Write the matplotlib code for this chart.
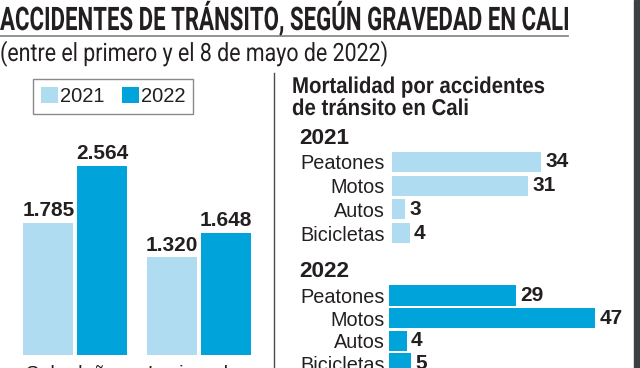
import matplotlib
matplotlib.use('Agg')
import numpy as np
import matplotlib.pyplot as plt
from matplotlib import patheffects
from matplotlib.patches import Patch, Rectangle
from matplotlib.lines import Line2D
from matplotlib.transforms import Affine2D

# datos
categorias = ['Solo daños', 'Lesionados']
valores_2021 = [1785, 1320]
valores_2022 = [2564, 1648]

tipos = ['Peatones', 'Motos', 'Autos', 'Bicicletas']
muertes_2021 = [34, 31, 3, 4]
muertes_2022 = [29, 47, 4, 5]

titulo = 'ACCIDENTES DE TRÁNSITO, SEGÚN GRAVEDAD EN CALI'
subtitulo = '(entre el primero y el 8 de mayo de 2022)'
titulo_der = ['Mortalidad por accidentes', 'de tránsito en Cali']

CLARO = '#afdcf0'
OSCURO = '#00a3da'
TEXTO = '#231f20'
SANS = 'Liberation Sans'

W, H = 640, 368


def fx(x):
    return x / W


def fy(y):
    return 1 - y / H


def miles(v):
    return f'{v:,}'.replace(',', '.')


# estira el texto en vertical (la fuente original es condensada)
class Estirar(patheffects.AbstractPathEffect):
    def __init__(self, sy):
        super().__init__()
        self.sy = sy

    def draw_path(self, renderer, gc, tpath, affine, rgbFace=None):
        renderer.draw_path(gc, tpath, Affine2D().scale(1, self.sy) + affine, rgbFace)


fig = plt.figure(figsize=(6.4, 3.68), dpi=100)

fig.text(0, fy(30), titulo, family='Roboto', weight='bold', fontsize=16,
         color=TEXTO, va='baseline', path_effects=[Estirar(1.46)])
fig.add_artist(Line2D([0, fx(568)], [fy(36), fy(36)], color='#8a8a8a', lw=1.3))
fig.text(0, fy(61), subtitulo, family='Roboto', fontsize=15.4,
         color=TEXTO, va='baseline', path_effects=[Estirar(1.18)])

# barras verticales
ax = fig.add_axes([0, fy(355), fx(272), 221.7 / H])
x = np.arange(len(categorias))
b1 = ax.bar(x - 0.2186, valores_2021, 0.405, color=CLARO)
b2 = ax.bar(x + 0.2186, valores_2022, 0.405, color=OSCURO)
ax.set_xlim(-0.611, 1.591)
ax.set_ylim(0, 3000)
for b, vals in [(b1, valores_2021), (b2, valores_2022)]:
    ax.bar_label(b, labels=[miles(v) for v in vals], padding=2, fontsize=15,
                 weight='bold', family=SANS, color=TEXTO)
ax.set_xticks(x, categorias, fontsize=14.3, family=SANS, color=TEXTO)
ax.tick_params(axis='x', length=0, pad=7)
ax.set_yticks([])
for s in ax.spines.values():
    s.set_visible(False)

leg = fig.legend(handles=[Patch(facecolor=CLARO, label='2021'),
                          Patch(facecolor=OSCURO, label='2022')],
                 loc='upper left', bbox_to_anchor=(fx(33), fy(79)), ncol=2,
                 fancybox=False, edgecolor='#6d6d6d', borderaxespad=0,
                 handlelength=0.85, handleheight=0.8, handletextpad=0.1,
                 columnspacing=0.85, borderpad=0.4,
                 prop={'family': SANS, 'size': 14.5})
leg.get_frame().set_linewidth(1)
for t in leg.get_texts():
    t.set_color(TEXTO)

# separador y borde
fig.add_artist(Line2D([fx(274), fx(274)], [fy(73), 0], color='#4a4a4a', lw=1))
fig.add_artist(Rectangle((fx(634), 0), fx(6), 1, transform=fig.transFigure,
                         color='#3d4043'))

# mortalidad
for texto, base in zip(titulo_der, [93, 115]):
    fig.text(fx(292), fy(base), texto, family=SANS, weight='bold', fontsize=14.7,
             color=TEXTO, va='baseline', path_effects=[Estirar(1.12)])

paneles = [('2021', muertes_2021, CLARO, 144, [fx(392), fy(245), 241.5 / W, 95 / H], 0.85, 5),
           ('2022', muertes_2022, OSCURO, 277, [fx(389), fy(374.8), 241.5 / W, 90.8 / H], 0.9, 3)]
for anio, vals, color, base, rect, alto, pad in paneles:
    fig.text(fx(299), fy(base), anio, family=SANS, weight='bold', fontsize=16.2,
             color=TEXTO, va='baseline')
    a = fig.add_axes(rect)
    bars = a.barh(range(len(tipos)), vals, height=alto, color=color)
    a.set_ylim(len(tipos) - 0.5, -0.5)
    a.set_xlim(0, 55)
    a.bar_label(bars, padding=3, fontsize=15, weight='bold', family=SANS, color=TEXTO)
    a.set_yticks(range(len(tipos)), tipos, fontsize=14.3, family=SANS, color=TEXTO)
    a.tick_params(axis='y', length=0, pad=pad)
    a.set_xticks([])
    for s in a.spines.values():
        s.set_visible(False)

fig.savefig('out.png', dpi=100)
